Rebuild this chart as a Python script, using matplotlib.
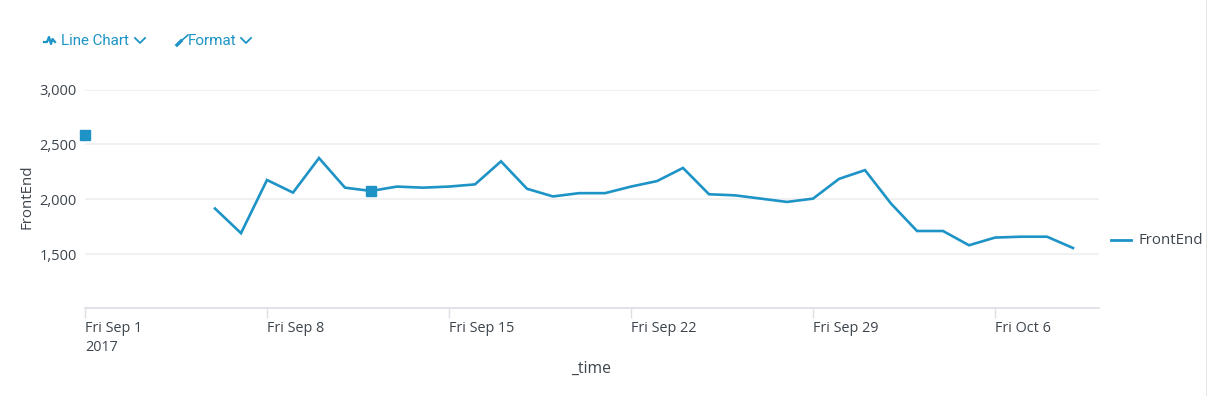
import numpy as np
import pandas as pd
import matplotlib
matplotlib.use('Agg')
import matplotlib.pyplot as plt
from matplotlib.lines import Line2D

# данные с графика (None = пропуск)
days = pd.date_range('2017-09-01', '2017-10-09')
frontend = [2587, None, None, None, None, 1915, 1690, 2175, 2060, 2375,
            2105, 2075, 2115, 2105, 2115, 2135, 2345, 2095, 2025, 2055,
            2055, 2115, 2165, 2285, 2045, 2035, 2005, 1975, 2005, 2185,
            2265, 1960, 1710, 1710, 1580, 1650, 1658, 1658, 1555]
selected = ['2017-09-01', '2017-09-12']
y_ticks = [1500, 2000, 2500, 3000]
x_ticks = ['2017-09-01', '2017-09-08', '2017-09-15', '2017-09-22', '2017-09-29', '2017-10-06']
x_labels = ['Fri Sep 1\n2017', 'Fri Sep 8', 'Fri Sep 15', 'Fri Sep 22', 'Fri Sep 29', 'Fri Oct 6']

W, H = 1207, 396
BLUE = '#1e93c6'
TEXT = '#3c444d'
plt.rcParams['font.family'] = ['Open Sans', 'DejaVu Sans']

fig = plt.figure(figsize=(W / 100, H / 100), dpi=100)
ax = fig.add_axes([85 / W, 1 - 308 / H, (1099 - 85) / W, (308 - 89.5) / H])

s = pd.Series(frontend, index=days, dtype=float)
ax.plot(s.index, s.values, color=BLUE, lw=1.9, solid_joinstyle='miter', clip_on=False)
sel = s[pd.to_datetime(selected)]
ax.plot(sel.index, sel.values, ls='none', marker='s', ms=7.2, color=BLUE, clip_on=False)

ax.set_xlim(pd.Timestamp('2017-09-01'), pd.Timestamp('2017-10-10'))
ax.set_ylim(1008, 3000)
ax.set_yticks(y_ticks)
ax.set_yticklabels([f'{v:,}' for v in y_ticks], fontsize=10.5, color=TEXT)
ax.set_xticks(pd.to_datetime(x_ticks))
ax.set_xticklabels(x_labels, fontsize=10.4, color=TEXT, ha='left', linespacing=1.4)
ax.tick_params(axis='y', length=0, pad=6)
ax.tick_params(axis='x', length=7, width=1, color='#dfe0e6', pad=2)
ax.grid(axis='y', color='#ededed', lw=1.1)
ax.set_axisbelow(True)
for name in ['top', 'right', 'left']:
    ax.spines[name].set_visible(False)
ax.spines['bottom'].set_color('#dcdde3')
ax.spines['bottom'].set_linewidth(1.2)

fig.text(591.5 / W, 1 - 369 / H, '_time', fontsize=11.3, color=TEXT, ha='center', va='center')
fig.text(27 / W, 1 - 197 / H, 'FrontEnd', fontsize=10.8, color=TEXT, ha='center', va='center', rotation=90)

# легенда справа
fig.add_artist(Line2D([1111 / W, 1131 / W], [1 - 240 / H] * 2, color=BLUE, lw=2))
fig.text(1138 / W, 1 - 240 / H, 'FrontEnd', fontsize=10.8, color=TEXT, va='center')

# панель инструментов
fig.text(61 / W, 1 - 41 / H, 'Line Chart', fontsize=10.9, color=BLUE, va='center', family='Roboto')
fig.text(188 / W, 1 - 41 / H, 'Format', fontsize=11, color=BLUE, va='center', family='Roboto')

def chevron(x):
    fig.add_artist(Line2D(np.array([x, x + 5, x + 10]) / W, 1 - np.array([38, 43, 38]) / H,
                          color=BLUE, lw=1.3))

chevron(135)
chevron(241)
# значок линейного графика и кисть
fig.add_artist(Line2D(np.array([44, 47, 49, 51, 52.5, 55]) / W, 1 - np.array([42, 42, 37, 44, 39, 42]) / H,
                      color=BLUE, lw=1.6))
fig.add_artist(Line2D(np.array([181, 188]) / W, 1 - np.array([41, 35]) / H, color=BLUE, lw=1.2))
fig.add_artist(Line2D(np.array([177, 181]) / W, 1 - np.array([45, 41]) / H, color=BLUE, lw=2.4))

# серая полоса у правого края
fig.add_artist(Line2D([1206.5 / W] * 2, [0, 1], color='#808080', lw=1))

fig.savefig('out.png', dpi=100)
